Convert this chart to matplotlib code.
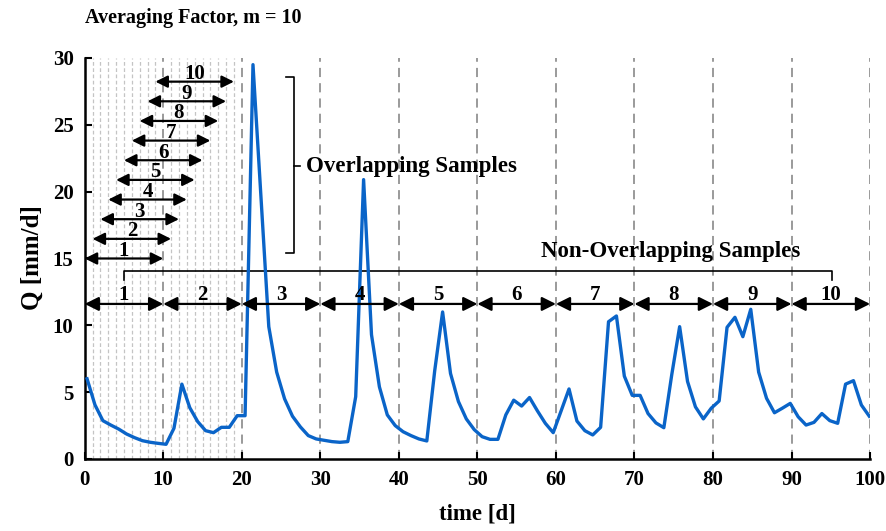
#!/usr/bin/env python3
"""Daily discharge with overlapping vs non-overlapping averaging windows (m = 10)."""

import matplotlib

matplotlib.use("Agg")
import matplotlib.pyplot as plt
import numpy as np


# Daily discharge Q [mm/d], 100 days
Q = [
    6.0, 4.05, 2.87, 2.54, 2.24, 1.87, 1.6, 1.37, 1.25, 1.17,
    1.1, 2.3, 5.6, 3.84, 2.8, 2.12, 1.97, 2.37, 2.37, 3.24,
    3.24, 29.5, 19.7, 9.9, 6.5, 4.5, 3.2, 2.4, 1.75, 1.5,
    1.4, 1.3, 1.25, 1.3, 4.66, 20.9, 9.3, 5.4, 3.3, 2.5,
    2.04, 1.75, 1.5, 1.35, 6.6, 11.0, 6.4, 4.3, 3.0, 2.2,
    1.67, 1.47, 1.47, 3.3, 4.4, 3.96, 4.6, 3.6, 2.67, 1.97,
    3.6, 5.24, 2.84, 2.12, 1.8, 2.37, 10.27, 10.7, 6.2, 4.76,
    4.76, 3.4, 2.7, 2.34, 6.3, 9.9, 5.8, 3.9, 3.0, 3.8,
    4.34, 9.85, 10.6, 9.15, 11.2, 6.5, 4.54, 3.46, 3.8, 4.16,
    3.16, 2.54, 2.74, 3.4, 2.87, 2.67, 5.6, 5.86, 4.04, 3.2,
]
DAYS = np.linspace(0.3, 99.9, len(Q))

M = 10
OVERLAP_LABELS = [str(k) for k in range(1, M + 1)]
OVERLAP_START = list(range(0, M))            # window k starts at day k-1
OVERLAP_LEVEL = [15.0 + 1.47 * i for i in range(M)]
BLOCK_EDGES = list(range(0, 101, 10))
BLOCK_LABELS = [str(k) for k in range(1, 11)]
BLOCK_LEVEL = 11.6

SERIF = "Liberation Serif"
BLUE = "#0a64c8"


def darrow(ax, x0, x1, y, scale):
  ax.annotate(
      "", xy=(x1, y), xytext=(x0, y),
      arrowprops=dict(arrowstyle="<|-|>", color="black", lw=1.6,
                      mutation_scale=scale, shrinkA=0, shrinkB=0))


def main():
  plt.rcParams.update({
      "font.family": SERIF,
      "font.weight": "bold",
      "axes.labelweight": "bold",
  })
  fig = plt.figure(figsize=(8.86, 5.31), dpi=100)
  ax = fig.add_axes([0.0956, 0.1356, 0.8864, 0.7552])

  # light day grid over the first two windows, dark grid every 10 days
  for d in range(1, 20):
    if d % 10:
      ax.axvline(d, color="#c4c4c4", lw=0.9, dashes=(3, 2), zorder=0)
  for d in BLOCK_EDGES[1:]:
    ax.axvline(d, color="#7f7f7f", lw=1.1, dashes=(6, 4), zorder=0)

  ax.plot(DAYS, Q, color=BLUE, lw=2.4, zorder=3)

  # overlapping windows
  for lab, start, y in zip(OVERLAP_LABELS, OVERLAP_START, OVERLAP_LEVEL):
    darrow(ax, start, start + M, y, 18)
    ax.text(start + M / 2, y + 0.2, lab, ha="center", va="baseline",
            fontsize=15, fontweight="bold")

  # non-overlapping windows
  for i, lab in enumerate(BLOCK_LABELS):
    darrow(ax, BLOCK_EDGES[i], BLOCK_EDGES[i + 1], BLOCK_LEVEL, 21)
    ax.text((BLOCK_EDGES[i] + BLOCK_EDGES[i + 1]) / 2, BLOCK_LEVEL + 0.3, lab,
            ha="center", va="baseline", fontsize=15, fontweight="bold")

  # bracket for the non-overlapping samples
  ax.plot([5, 5, 95.2, 95.2], [13.4, 14.1, 14.1, 13.4], color="black", lw=1.2)
  ax.text(74.6, 15.5, "Non-Overlapping Samples", ha="center", va="center",
          fontsize=16.5, fontweight="bold")

  # bracket for the overlapping samples
  ax.plot([25.6, 26.6, 26.6, 25.6], [28.55, 28.55, 15.4, 15.4], color="black", lw=1.2)
  ax.plot([26.6, 27.4], [21.9, 21.9], color="black", lw=1.2)
  ax.text(28.2, 21.9, "Overlapping Samples", ha="left", va="center",
          fontsize=16.5, fontweight="bold")

  ax.set_xlim(0, 100)
  ax.set_ylim(0, 30)
  ax.set_xticks(range(0, 101, 10))
  ax.set_yticks(range(0, 31, 5))
  ax.tick_params(direction="in", length=5, width=1.5, labelsize=15, pad=8)
  for lab in ax.get_xticklabels() + ax.get_yticklabels():
    lab.set_fontweight("bold")
  for side in ("top", "right"):
    ax.spines[side].set_visible(False)
  for side in ("left", "bottom"):
    ax.spines[side].set_linewidth(1.8)

  fig.text(32 / 886, 1 - 258 / 531, "Q [mm/d]", rotation=90, ha="center",
           va="center", fontsize=18, fontweight="bold")
  fig.text(477 / 886, 1 - 514 / 531, "time [d]", ha="center", va="center",
           fontsize=16.5, fontweight="bold")
  fig.text(85 / 886, 1 - 18 / 531, "Averaging Factor, m = 10", ha="left",
           va="center", fontsize=14.5, fontweight="bold")

  fig.savefig("out.png", dpi=100)
  plt.close(fig)


if __name__ == "__main__":
  main()
